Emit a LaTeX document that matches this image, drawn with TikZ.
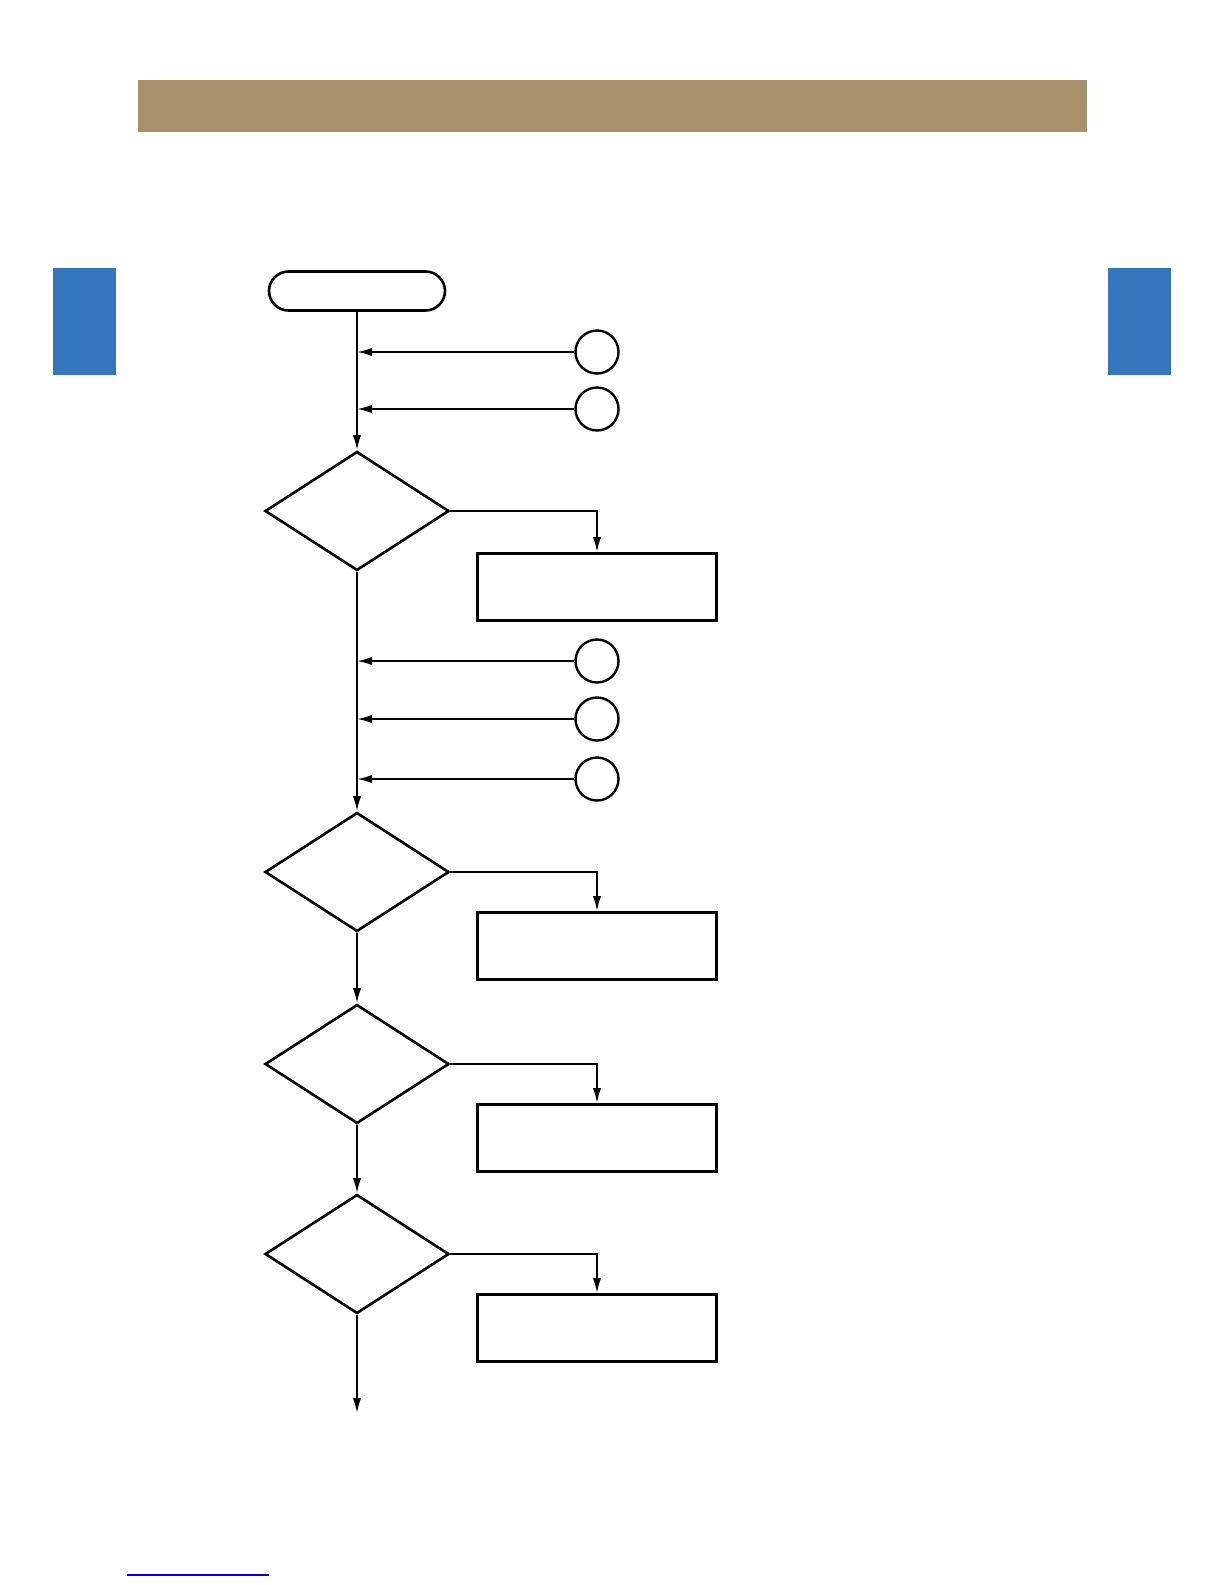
\documentclass[tikz,border=0pt]{standalone}
\usepackage{xcolor}
\usepackage{tikz}
\usetikzlibrary{arrows.meta,shapes.geometric,shapes.misc,calc}

\definecolor{barbrown}{HTML}{A8916B}
\definecolor{tabblue}{HTML}{3575BC}

\begin{document}
\begin{tikzpicture}[x=0.5pt,y=-0.5pt,>={Latex[length=7.5pt,width=4.2pt]},
   ln/.style={line width=1pt},
   term/.style={rounded rectangle,draw,line width=1.3pt,minimum width=88pt,minimum height=19.5pt,inner sep=0pt},
   dec/.style={diamond,draw,line width=1.3pt,minimum width=92pt,minimum height=59.5pt,inner sep=0pt,aspect=1.55},
   act/.style={rectangle,draw,line width=1.5pt,minimum width=119.5pt,minimum height=33.5pt,inner sep=0pt},
   con/.style={circle,draw,line width=1.2pt,minimum size=21.5pt,inner sep=0pt}]
  \useasboundingbox (0,0) rectangle (1225,1585);
  % page decoration
  \fill[barbrown] (138,80) rectangle (1087,132);
  \fill[tabblue] (53,268) rectangle (116,375);
  \fill[tabblue] (1108,268) rectangle (1171,375);
  \draw[blue!85!black,line width=0.8pt] (127,1575) -- (269,1575);
  % flow
  \node[term] (start) at (357,291) {};
  \node[con] (con1) at (597,352) {};
  \node[con] (con2) at (597,409) {};
  \node[dec] (dec1) at (357,511) {};
  \node[act] (box1) at (597,587) {};
  \node[con] (con3) at (597,661) {};
  \node[con] (con4) at (597,719) {};
  \node[con] (con5) at (597,779) {};
  \node[dec] (dec2) at (357,872) {};
  \node[act] (box2) at (597,946) {};
  \node[dec] (dec3) at (357,1064) {};
  \node[act] (box3) at (597,1138) {};
  \node[dec] (dec4) at (357,1254) {};
  \node[act] (box4) at (597,1328) {};
  \coordinate (out) at (357,1413);
  \draw[ln,->] (start) -- (dec1);
  \draw[ln,->] (con1) -- (con1 -| start);
  \draw[ln,->] (con2) -- (con2 -| start);
  \draw[ln,->] (dec1) -- (dec2);
  \draw[ln,->] (con3) -- (con3 -| dec1);
  \draw[ln,->] (con4) -- (con4 -| dec1);
  \draw[ln,->] (con5) -- (con5 -| dec1);
  \draw[ln,->] (dec2) -- (dec3);
  \draw[ln,->] (dec3) -- (dec4);
  \draw[ln,->] (dec4) -- (out);
  \draw[ln,->] (dec1.east) -| (box1.north);
  \draw[ln,->] (dec2.east) -| (box2.north);
  \draw[ln,->] (dec3.east) -| (box3.north);
  \draw[ln,->] (dec4.east) -| (box4.north);
\end{tikzpicture}
\end{document}
